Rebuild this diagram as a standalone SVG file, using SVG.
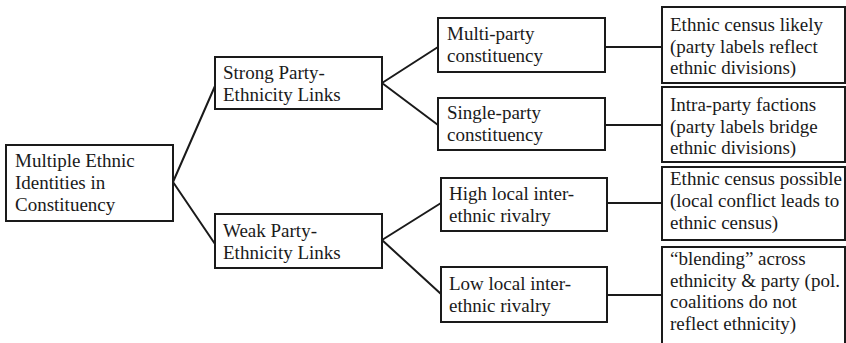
<svg xmlns="http://www.w3.org/2000/svg" width="846" height="343" viewBox="0 0 846 343">
<rect width="846" height="343" fill="#fff"/>
<g id="connectors" stroke="#1a1a1a" stroke-width="2" fill="none">
<path d="M173,182 L215,86 M173,182 L215,244"/>
<path d="M382,83 L438,47 M382,83 L438,125"/>
<path d="M382,240 L441,203 M382,240 L441,294"/>
<path d="M605,47 L662,47 M605,125 L662,125 M607,203 L662,203 M607,295 L662,295"/>
</g>
<g id="nodes" font-family="Liberation Serif" font-size="19" fill="#1a1a1a">
<g id="n-root"><rect fill="#fff" stroke="#1a1a1a" stroke-width="2" x="6" y="145" width="167" height="76"/>
<text x="15" y="167">Multiple Ethnic</text><text x="15" y="189">Identities in</text><text x="15" y="211">Constituency</text></g>
<g id="n-strong"><rect fill="#fff" stroke="#1a1a1a" stroke-width="2" x="215" y="57" width="167" height="52"/>
<text x="223" y="79">Strong Party-</text><text x="223" y="101">Ethnicity Links</text></g>
<g id="n-weak"><rect fill="#fff" stroke="#1a1a1a" stroke-width="2" x="215" y="214" width="167" height="54"/>
<text x="223" y="237">Weak Party-</text><text x="223" y="259">Ethnicity Links</text></g>
<g id="n-multi"><rect fill="#fff" stroke="#1a1a1a" stroke-width="2" x="438" y="18" width="167" height="54"/>
<text x="447" y="40">Multi-party</text><text x="447" y="62">constituency</text></g>
<g id="n-single"><rect fill="#fff" stroke="#1a1a1a" stroke-width="2" x="438" y="98" width="167" height="52"/>
<text x="447" y="119">Single-party</text><text x="447" y="141">constituency</text></g>
<g id="n-high"><rect fill="#fff" stroke="#1a1a1a" stroke-width="2" x="441" y="178" width="166" height="53"/>
<text x="449" y="200">High local inter-</text><text x="449" y="222">ethnic rivalry</text></g>
<g id="n-low"><rect fill="#fff" stroke="#1a1a1a" stroke-width="2" x="441" y="267" width="166" height="55"/>
<text x="449" y="290">Low local inter-</text><text x="449" y="312">ethnic rivalry</text></g>
<g id="n-census-likely"><rect fill="#fff" stroke="#1a1a1a" stroke-width="2" x="662" y="7" width="183" height="76"/>
<text x="670" y="31">Ethnic census likely</text><text x="670" y="53">(party labels reflect</text><text x="670" y="74">ethnic divisions)</text></g>
<g id="n-intra"><rect fill="#fff" stroke="#1a1a1a" stroke-width="2" x="662" y="87" width="183" height="75"/>
<text x="670" y="111">Intra-party factions</text><text x="670" y="133">(party labels bridge</text><text x="670" y="154">ethnic divisions)</text></g>
<g id="n-census-possible"><rect fill="#fff" stroke="#1a1a1a" stroke-width="2" x="662" y="167" width="183" height="73"/>
<text x="670" y="185">Ethnic census possible</text><text x="670" y="207">(local conflict leads to</text><text x="670" y="229">ethnic census)</text></g>
<g id="n-blending"><rect fill="#fff" stroke="#1a1a1a" stroke-width="2" x="662" y="247" width="183" height="110"/>
<text x="670" y="265">“blending” across</text><text x="670" y="287">ethnicity &amp; party (pol.</text><text x="670" y="308">coalitions do not</text><text x="670" y="330">reflect ethnicity)</text></g>
</g>
</svg>
